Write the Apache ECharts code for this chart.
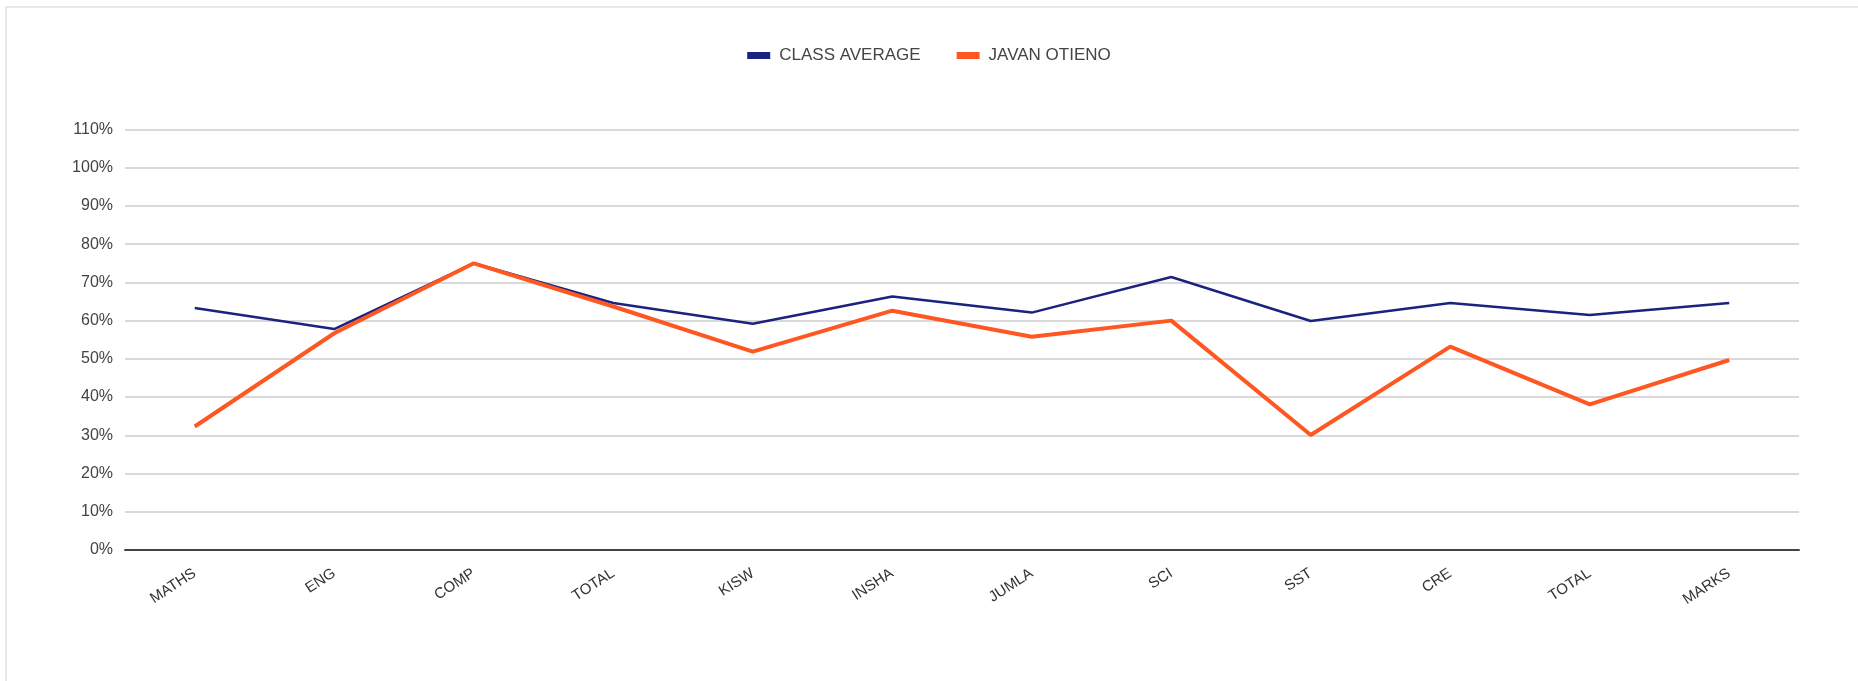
<!DOCTYPE html>
<html>
<head>
<meta charset="utf-8">
<script src="https://cdn.jsdelivr.net/npm/echarts@6/dist/echarts.min.js"></script>
<style>
html,body{margin:0;padding:0;background:#fff;}
#frame{position:absolute;left:5px;top:6px;width:1900px;height:700px;border-left:2px solid #e8e8e8;border-top:2px solid #e8e8e8;}
#chart{position:absolute;left:0;top:0;width:1858px;height:681px;}
</style>
</head>
<body>
<div id="frame"></div>
<div id="chart"></div>
<script>
// categories and values (percent)
const subjects=['MATHS','ENG','COMP','TOTAL','KISW','INSHA','JUMLA','SCI','SST','CRE','TOTAL','MARKS'];
const classAverage=[63.3,57.8,75.0,64.6,59.2,66.3,62.1,71.4,59.9,64.6,61.5,64.6];
const javanOtieno=[32.3,56.7,75.0,63.7,51.9,62.6,55.8,60.0,30.1,53.2,38.1,49.7];
const yTicks={min:0,max:110,interval:10};

const chart=echarts.init(document.getElementById('chart'));
chart.setOption({
    backgroundColor:'transparent',
    animation:false,
    legend:{
        top:42,left:'center',
        itemWidth:23,itemHeight:7,itemGap:36,
        icon:'rect',
        textStyle:{color:'#444',fontSize:17,fontFamily:'Liberation Sans, Arial, sans-serif',padding:[0,0,0,4]},
        data:['CLASS AVERAGE','JAVAN OTIENO']
    },
    grid:{left:125,right:59,top:129.5,bottom:131},
    xAxis:{
        type:'category',data:subjects,boundaryGap:true,
        axisLine:{lineStyle:{color:'#444',width:2}},
        axisTick:{show:false},
        axisLabel:{rotate:33,color:'#333',fontSize:15,margin:22,fontFamily:'Liberation Sans, Arial, sans-serif',padding:[0,0,0,0]},
        splitLine:{show:false}
    },
    yAxis:{
        type:'value',min:yTicks.min,max:yTicks.max,interval:yTicks.interval,
        axisLine:{show:false},axisTick:{show:false},
        axisLabel:{formatter:'{value}%',color:'#444',fontSize:16,margin:12,fontFamily:'Liberation Sans, Arial, sans-serif'},
        splitLine:{lineStyle:{color:'#ccc',width:1.5}}
    },
    series:[
        {name:'CLASS AVERAGE',type:'line',data:classAverage,symbol:'none',
         lineStyle:{color:'#1a237e',width:2.5},itemStyle:{color:'#1a237e'}},
        {name:'JAVAN OTIENO',type:'line',data:javanOtieno,symbol:'none',
         lineStyle:{color:'#ff5722',width:4},itemStyle:{color:'#ff5722'}}
    ]
});
</script>
</body>
</html>
